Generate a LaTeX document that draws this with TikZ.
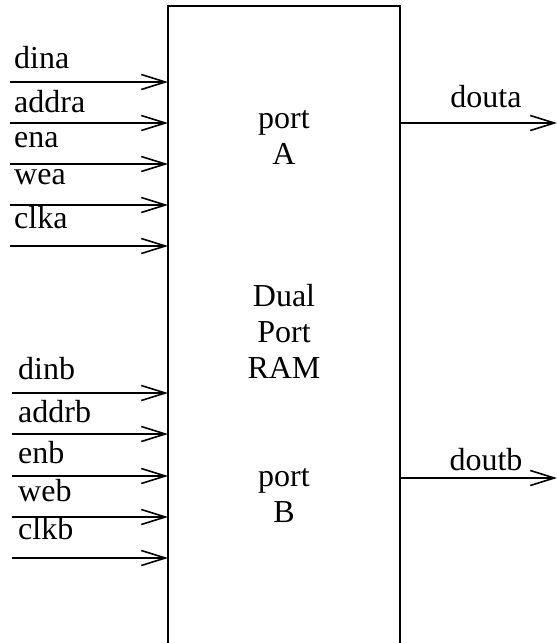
\documentclass[tikz,border=0pt]{standalone}
\usepackage{fontspec}
\setmainfont{Liberation Serif}
\usetikzlibrary{arrows.meta}
\begin{document}
\begin{tikzpicture}[x=1pt,y=-1pt,
  wire/.style={line width=1.6pt,-{Straight Barb[length=24pt,width=15pt,line width=1.6pt]}},
  sig/.style={anchor=base west,inner sep=0pt,font=\fontsize{32}{32}\selectfont},
  inner/.style={align=center,font=\fontsize{32}{36}\selectfont}]
  \useasboundingbox (0,0) rectangle (557,643);
  \clip (0,0) rectangle (557,643);
  % memory block (runs past the lower edge)
  \draw[line width=1.8pt] (168,6) rectangle (400,680);
  \coordinate (L) at (168,0);
  \coordinate (R) at (400,0);
  \node[inner] (pa) at (284,137) {port\\A};
  \node[inner] (ram) at (284,331) {Dual\\Port\\RAM};
  \node[inner] (pb) at (284,496) {port\\B};
  % port A inputs
  \foreach \nm/\y in {dina/82,addra/123,ena/164,wea/205,clka/246}
    \coordinate (\nm) at (10,\y);
  \foreach \nm in {dina,addra,ena,wea,clka}
    \draw[wire] (\nm) -- (\nm -| L);
  \node[sig] at (14,68) {dina};
  \node[sig] at (14,112) {addra};
  \node[sig] at (14,147) {ena};
  \node[sig] at (14,184) {wea};
  \node[sig] at (14,228) {clka};
  % port B inputs
  \foreach \nm/\y in {dinb/393,addrb/434,enb/476,web/517,clkb/558}
    \coordinate (\nm) at (12,\y);
  \foreach \nm in {dinb,addrb,enb,web,clkb}
    \draw[wire] (\nm) -- (\nm -| L);
  \node[sig] at (18,379) {dinb};
  \node[sig] at (18,422) {addrb};
  \node[sig] at (18,463) {enb};
  \node[sig] at (18,501) {web};
  \node[sig] at (18,539) {clkb};
  % outputs
  \coordinate (douta) at (557,123);
  \coordinate (doutb) at (557,478);
  \draw[wire] (douta -| R) -- (douta);
  \draw[wire] (doutb -| R) -- (doutb);
  \node[sig,anchor=base] at (486,107) {douta};
  \node[sig,anchor=base] at (486,470) {doutb};
\end{tikzpicture}
\end{document}
